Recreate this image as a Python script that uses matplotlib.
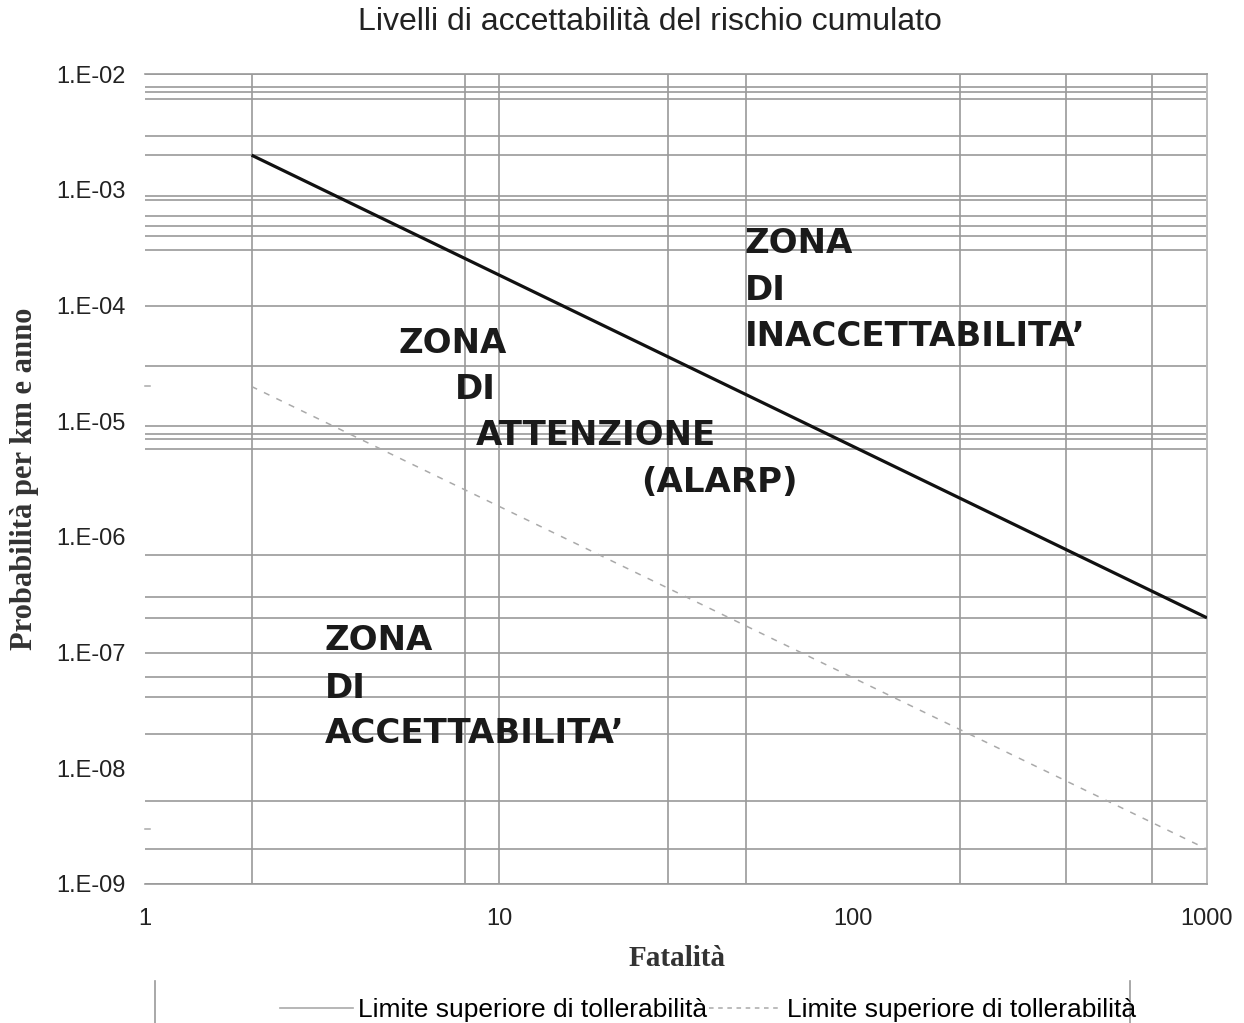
import numpy as np
import matplotlib
matplotlib.use("Agg")
from matplotlib import pyplot as plt
from matplotlib.lines import Line2D
from matplotlib.ticker import FixedLocator, FuncFormatter, NullFormatter

# data
fatalities = [2, 1000]
upper_limit = [2e-3, 2e-7]      # limite superiore (solid)
lower_limit = [2e-5, 2e-9]      # limite inferiore (dashed)
stray_marks = [2e-5, 3e-9]      # small dashes at the left edge

x_ticks = [1, 10, 100, 1000]
y_ticks = [1e-2, 1e-3, 1e-4, 1e-5, 1e-6, 1e-7, 1e-8, 1e-9]
x_grid = [2, 8, 10, 30, 50, 200, 400, 700]
y_grid = [1e-2, 7.7e-3, 7.1e-3, 6.1e-3, 2.9e-3, 2e-3,
          8.9e-4, 8.2e-4, 6e-4, 4.9e-4, 4e-4, 3e-4, 1e-4,
          3e-5, 9.1e-6, 7.8e-6, 7.1e-6, 5.8e-6,
          7e-7, 3e-7, 2e-7, 1e-7, 6.1e-8, 4.1e-8, 2e-8,
          5.2e-9, 2e-9, 1e-9]

legend_labels = ["Limite superiore di tollerabilità",
                 "Limite superiore di tollerabilità"]

W, H = 1244, 1023
fig = plt.figure(figsize=(W/100, H/100), dpi=100)
ax = fig.add_axes([145/W, 1 - 884/H, (1207-145)/W, (884-74.3)/H])

ax.set_xscale('log')
ax.set_yscale('log')
ax.set_xlim(1, 1000)
ax.set_ylim(1e-9, 1e-2)

grid_col = '#9a9a9a'
ax.xaxis.remove_overlapping_locs = False
ax.yaxis.remove_overlapping_locs = False
ax.xaxis.set_major_locator(FixedLocator(x_ticks))
ax.xaxis.set_minor_locator(FixedLocator(x_grid))
ax.yaxis.set_major_locator(FixedLocator(y_ticks))
ax.yaxis.set_minor_locator(FixedLocator(y_grid))
ax.xaxis.set_major_formatter(FuncFormatter(lambda v, p: "%d" % round(v)))
ax.yaxis.set_major_formatter(FuncFormatter(lambda v, p: "1.E-%02d" % round(-np.log10(v))))
ax.xaxis.set_minor_formatter(NullFormatter())
ax.yaxis.set_minor_formatter(NullFormatter())
ax.grid(False, which='major')
ax.grid(True, which='minor', color=grid_col, lw=1.2)
ax.tick_params(which='both', length=0)
ax.tick_params(axis='y', pad=14, labelsize=17, labelcolor='#222222')
ax.tick_params(axis='x', pad=17, labelsize=17, labelcolor='#222222')
for lab in ax.get_xticklabels() + ax.get_yticklabels():
    lab.set_family('Liberation Sans')

ax.spines['left'].set_visible(False)
for s in ['top', 'bottom']:
    ax.spines[s].set_color(grid_col)
    ax.spines[s].set_linewidth(1.2)
ax.spines['right'].set_color('#bbbbbb')
ax.spines['right'].set_linewidth(1.4)

ax.plot(fatalities, upper_limit, color='#111111', lw=2.3, solid_capstyle='butt', zorder=3)
ax.plot(fatalities, lower_limit, color='#aaaaaa', lw=1.1, ls=(0, (4, 5)), zorder=3)
for v in stray_marks:
    ax.plot([1, 1.035], [v, v], color='#aaaaaa', lw=1.1, clip_on=False)

# zone labels
zone_font = dict(family='DejaVu Sans', fontweight='heavy', fontsize=24.5, color='#1a1a1a',
                 transform=ax.transAxes, ha='left', va='baseline')
def put(text, px, py):
    ax.text((px - 145)/1062, (884 - py)/809.7, text, **zone_font)

put("ZONA", 398, 353)
put("DI", 455, 399)
put("ATTENZIONE", 476, 445)
put("(ALARP)", 641, 492)
put("ZONA", 745, 253)
put("DI", 745, 300)
put("INACCETTABILITA’", 745, 346)
put("ZONA", 325, 650)
put("DI", 325, 698)
put("ACCETTABILITA’", 325, 743)

fig.text(650/W, 1 - 22/H, "Livelli di accettabilità del rischio cumulato",
         family='Liberation Sans', fontsize=23, ha='center', va='center', color='#222222')
fig.text(25/W, 1 - 479/H, "Probabilità per km e anno", family='Liberation Serif',
         fontweight='bold', fontsize=22, rotation=90, ha='center', va='center', color='#333333')
fig.text(677/W, 1 - 958/H, "Fatalità", family='Liberation Serif',
         fontweight='bold', fontsize=21, ha='center', va='center', color='#333333')

# legend (box is cut by the bottom of the picture)
handles = [Line2D([], [], color='#aaaaaa', lw=1.2),
           Line2D([], [], color='#aaaaaa', lw=1.1, ls=(0, (3, 3)))]
fig.legend(handles, legend_labels, loc='center', bbox_to_anchor=(708/W, 1 - 1010/H),
           ncol=2, frameon=False, prop={'family': 'Liberation Sans', 'size': 19},
           handlelength=2.75, handletextpad=0.2, columnspacing=0.08, borderpad=0)
fig.add_artist(Line2D([155/W, 155/W], [0, 1 - 981/H], color='#999999', lw=1.2))
fig.add_artist(Line2D([1130/W, 1130/W], [0, 1 - 981/H], color='#999999', lw=1.2))

fig.savefig('out.png', dpi=100)
